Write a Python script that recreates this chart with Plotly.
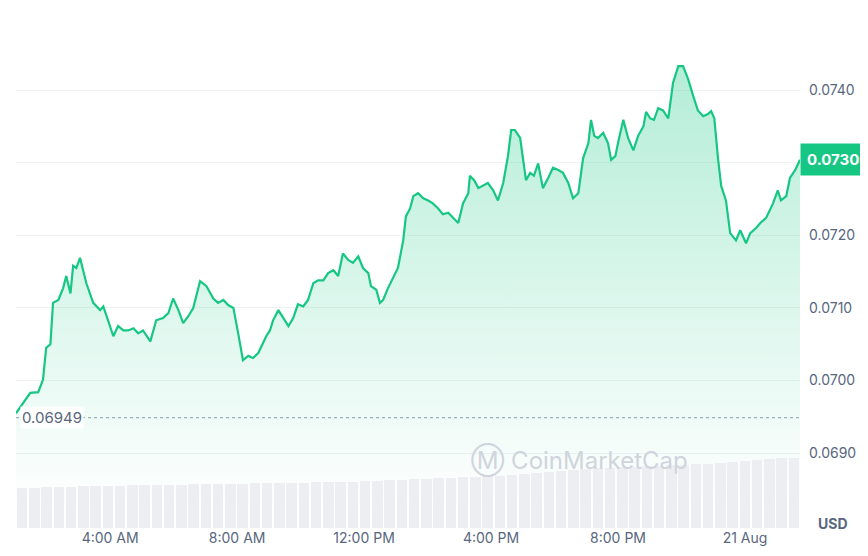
import plotly.graph_objects as go
from datetime import datetime, timedelta

# minutes since 2023-08-20 00:00
minutes = [62,75,89,104,113,119,127,132,142,151,157,165,170,176,183,195,208,221,227,236,246,255,265,274,284,293,302,316,327,340,350,359,369,378,388,397,410,422,435,444,454,463,473,482,491,501,510,520,529,535,542,548,558,567,577,586,595,605,614,624,633,643,652,662,671,680,690,699,709,718,728,733,743,750,756,765,775,784,794,799,807,813,822,832,841,850,860,869,879,888,898,907,917,920,928,936,945,954,964,973,983,992,998,1005,1015,1021,1026,1034,1041,1049,1058,1068,1077,1087,1096,1106,1115,1125,1134,1144,1149,1155,1162,1172,1181,1187,1195,1200,1210,1219,1229,1238,1248,1253,1261,1268,1276,1285,1295,1304,1314,1323,1333,1342,1351,1361,1370,1376,1382,1389,1395,1404,1412,1423,1431,1442,1450,1461,1469,1480,1487,1493,1502,1508,1518,1525,1535,1544]
# price in units of 1e-4 USD
price_e4 = [695.5,696.9,698.3,698.4,700.1,704.5,705.0,710.7,711.1,712.7,714.4,712.0,715.8,715.5,716.9,713.4,710.7,709.7,710.2,708.3,706.1,707.5,706.9,706.9,707.2,706.5,706.9,705.4,708.3,708.6,709.3,711.3,709.7,707.9,708.9,710.0,713.7,713.0,711.3,710.7,711.1,710.4,710.0,706.5,702.8,703.4,703.1,703.8,705.2,706.1,706.9,708.3,709.7,708.6,707.5,708.6,710.5,710.2,711.1,713.4,713.8,713.8,714.8,715.2,714.4,717.5,716.6,716.2,717.1,715.5,714.8,713.0,712.5,710.7,711.1,712.7,714.1,715.5,719.3,722.6,723.7,725.4,725.8,725.1,724.8,724.4,723.7,722.9,723.1,722.4,721.7,724.4,725.8,728.2,727.6,726.5,726.8,727.2,726.2,724.8,727.2,730.9,734.5,734.5,733.4,729.9,727.6,728.6,728.2,729.9,726.5,727.9,729.3,729.0,728.6,727.2,725.1,725.8,730.6,732.7,735.9,733.7,733.4,734.1,732.7,730.4,730.9,732.7,735.9,733.4,731.7,733.7,735.0,737.0,736.1,735.9,737.5,737.2,736.1,741.0,743.3,743.3,741.4,739.2,737.2,736.4,736.7,737.1,736.1,730.6,726.8,724.8,720.3,719.3,720.7,718.9,720.3,721.0,721.7,722.4,723.5,724.4,726.2,724.8,725.4,727.9,729.0,730.4]
volume = [40,40,41,41,41,42,42,42,42,43,43,43,43,43,44,44,44,44,44,45,45,45,45,45,46,46,46,46,47,47,48,48,49,49,50,50,51,51,52,52,53,54,55,56,57,58,59,60,60,61,61,62,62,63,63,64,64,65,66,67,68,69,70,70]
y_ticks = [0.0690, 0.0700, 0.0710, 0.0720, 0.0730, 0.0740]
x_tick_labels = ["4:00 AM", "8:00 AM", "12:00 PM", "4:00 PM", "8:00 PM", "21 Aug"]
x_tick_hours = [4, 8, 12, 16, 20, 24]
open_price = 0.06949
last_price_label = "0.0730"

base = datetime(2023, 8, 20)
times = [base + timedelta(minutes=m) for m in minutes]
prices = [p / 10000 for p in price_e4]
t0, t1 = times[0], times[-1]
n = len(volume)
vol_times = [t0 + (t1 - t0) * (i + 0.5) / n for i in range(n)]

green = "#16c784"
fig = go.Figure()
fig.add_trace(go.Bar(x=vol_times, y=volume, yaxis="y2", marker_color="#eceef2",
                     marker_line_width=0, width=(t1 - t0).total_seconds() * 1000 / n * 0.85))
fig.add_trace(go.Scatter(x=[t0, t1], y=[open_price, open_price], mode="lines",
                         line=dict(color="#a6b0c3", width=1.2, dash="dot")))
fig.add_trace(go.Scatter(x=times, y=prices, mode="lines", line=dict(color=green, width=2.2),
                         fill="tozeroy",
                         fillgradient=dict(type="vertical", start=0.0682, stop=0.0743,
                                           colorscale=[[0, "rgba(22,199,132,0)"], [1, "rgba(22,199,132,0.32)"]])))

fig.add_annotation(x=t0, y=open_price, xref="x", yref="y", text="0.06949", showarrow=False,
                   xanchor="left", yanchor="middle", xshift=4, bgcolor="white",
                   font=dict(size=15, color="#58667e", family="Inter"))
fig.add_annotation(x=1.0, y=prices[-1], xref="paper", yref="y", text="<b>" + last_price_label + "</b>",
                   showarrow=False, xanchor="left", bgcolor=green, borderpad=6,
                   font=dict(size=15, color="white", family="Inter"))
fig.add_annotation(x=1.0, y=0, xref="paper", yref="paper", text="<b>USD</b>", showarrow=False,
                   xanchor="left", yanchor="bottom", xshift=16, yshift=-6,
                   font=dict(size=14, color="#58667e", family="Inter"))
fig.add_annotation(x=0.86, y=0.0689, xref="paper", yref="y", text="Ⓜ CoinMarketCap", showarrow=False,
                   font=dict(size=24, color="#d0d4dc", family="Inter"))

fig.update_layout(
    width=868, height=556, margin=dict(l=8, r=76, t=8, b=36),
    paper_bgcolor="white", plot_bgcolor="white", showlegend=False, bargap=0,
    xaxis=dict(range=[t0, t1], showgrid=False, zeroline=False, showline=False, automargin=False,
               tickvals=[base + timedelta(hours=h) for h in x_tick_hours], ticktext=x_tick_labels,
               tickfont=dict(size=14, color="#58667e", family="Inter"), ticks=""),
    yaxis=dict(range=[0.06797, 0.07502], side="right", tickvals=y_ticks, automargin=False,
               ticktext=["" if f"{v:.4f}" == last_price_label else f"{v:.4f}" for v in y_ticks],
               gridcolor="#eff2f5", zeroline=False,
               tickfont=dict(size=14, color="#58667e", family="Inter"), ticklabelstandoff=8),
    yaxis2=dict(range=[0, 512], overlaying="y", visible=False),
)
fig.write_html("out.html")
